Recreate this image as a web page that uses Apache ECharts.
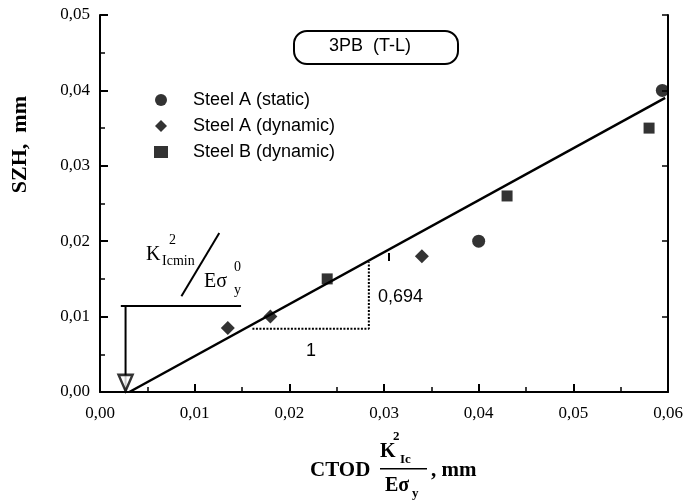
<!DOCTYPE html>
<html>
<head>
<meta charset="utf-8">
<script src="https://cdn.jsdelivr.net/npm/echarts@6/dist/echarts.min.js"></script>
<style>
  html, body { margin: 0; padding: 0; background: #fff; }
  #chart { width: 689px; height: 500px; }
</style>
</head>
<body>
<div id="chart"></div>
<script>
// values (x = CTOD, y = SZH, both mm)
const steelAStatic = [[0.040, 0.020], [0.0594, 0.040]];
const steelADynamic = [[0.0135, 0.0085], [0.018, 0.010], [0.034, 0.018]];
const steelBDynamic = [[0.024, 0.015], [0.043, 0.026], [0.058, 0.035]];
const fitLine = [[0.0031, 0], [0.0597, 0.039]];
const slopeTriangle = [[0.0161, 0.0084], [0.0284, 0.0084], [0.0284, 0.0172]];
const kLine = [[0.0022, 0.0114], [0.0149, 0.0114]];
const kSlash = [[0.0086, 0.0127], [0.0126, 0.0211]];
const kArrow = [[0.0027, 0.0114], [0.0027, 0.0002]];
const kArrowHead = [[0.0027, 0.0012]];

const serif = '"Liberation Serif", "DejaVu Serif", serif';
const sans = '"Liberation Sans", Arial, sans-serif';
const fmt = v => v.toFixed(2).replace('.', ',');

let myChart = echarts.init(document.getElementById('chart'));

const plainLine = (data, extra) => Object.assign({
  type: 'line',
  data: data,
  symbol: 'none',
  silent: true,
  z: 3,
  lineStyle: { color: '#000', width: 2 }
}, extra || {});

const txt = (x, y, s, font) => ({
  type: 'text',
  left: x,
  top: y,
  z: 20,
  style: { text: s, fill: '#000', font: font }
});

const axisLine = { onZero: false, lineStyle: { color: '#000', width: 2 } };

var option = {
  animation: false,
  grid: { left: 100, right: 21, top: 15, bottom: 108 },
  legend: {
    data: ['Steel A (static)', 'Steel A (dynamic)', 'Steel B (dynamic)'],
    orient: 'vertical',
    left: 149,
    top: 86,
    itemWidth: 14,
    itemHeight: 12,
    itemGap: 8,
    textStyle: { fontFamily: sans, fontSize: 18, color: '#000', padding: [0, 0, 0, 20] }
  },
  xAxis: {
    type: 'value', min: 0, max: 0.06, interval: 0.01,
    axisLine: axisLine,
    axisTick: { inside: true, length: 8, lineStyle: { color: '#000', width: 2 } },
    minorTick: { show: true, splitNumber: 2, length: 5, lineStyle: { color: '#000', width: 1.5 } },
    splitLine: { show: false },
    axisLabel: { formatter: fmt, fontFamily: serif, fontSize: 17, color: '#000', margin: 13 }
  },
  yAxis: [{
    type: 'value', min: 0, max: 0.05, interval: 0.01,
    axisLine: Object.assign({ show: true }, axisLine),
    axisTick: { show: true, inside: true, length: 8, lineStyle: { color: '#000', width: 2 } },
    minorTick: { show: true, splitNumber: 2, length: 5, lineStyle: { color: '#000', width: 1.5 } },
    splitLine: { show: false },
    axisLabel: { formatter: fmt, fontFamily: serif, fontSize: 17, color: '#000', margin: 10 }
  }, {
    type: 'value', min: 0, max: 0.05, interval: 0.01, position: 'right',
    axisLine: Object.assign({ show: true }, axisLine),
    axisTick: { show: true, inside: true, length: 6, lineStyle: { color: '#000', width: 1.5 } },
    splitLine: { show: false }, axisLabel: { show: false }
  }],
  series: [
    plainLine(fitLine, { lineStyle: { color: '#000', width: 2.5 } }),
    plainLine(slopeTriangle, { lineStyle: { color: '#000', width: 2, type: [2, 1.5] } }),
    plainLine(kLine),
    plainLine(kSlash),
    plainLine(kArrow),
    {
      type: 'scatter', data: kArrowHead, silent: true, z: 4,
      symbol: 'triangle', symbolRotate: 180, symbolSize: [14, 16],
      itemStyle: { color: '#fff', borderColor: '#000', borderWidth: 2.5 }
    },
    {
      name: 'Steel A (static)', type: 'scatter', data: steelAStatic, z: 5,
      symbol: 'circle', symbolSize: 13, itemStyle: { color: '#000' }
    },
    {
      name: 'Steel A (dynamic)', type: 'scatter', data: steelADynamic, z: 5,
      symbol: 'path://M0,-1L1,0L0,1L-1,0Z', symbolSize: 14, itemStyle: { color: '#000' }
    },
    {
      name: 'Steel B (dynamic)', type: 'scatter', data: steelBDynamic, z: 5,
      symbol: 'rect', symbolSize: 11, itemStyle: { color: '#000' }
    }
  ],
  graphic: [
    // title box
    {
      type: 'rect', left: 293, top: 30, z: 10,
      shape: { width: 164, height: 33, r: 13 },
      style: { fill: '#fff', stroke: '#000', lineWidth: 2 }
    },
    txt(329, 37, '3PB  (T-L)', '18px ' + sans),
    // slope labels
    txt(378, 288, '0,694', '18px ' + sans),
    txt(306, 342, '1', '18px ' + sans),
    { type: 'rect', left: 388, top: 253, shape: { width: 2, height: 8 }, style: { fill: '#000' } },
    // K^2_Icmin / E sigma_y^0
    txt(146, 245, 'K', '20px ' + serif),
    txt(169, 233, '2', '14px ' + serif),
    txt(162, 254, 'Icmin', '14px ' + serif),
    txt(204, 272, 'Eσ', '20px ' + serif),
    txt(234, 260, '0', '14px ' + serif),
    txt(234, 283, 'y', '14px ' + serif),
    // y axis title
    {
      type: 'text', left: 9, top: 96, rotation: Math.PI / 2, z: 20,
      style: { text: 'SZH,  mm', fill: '#000', font: 'bold 22px ' + serif }
    },
    // x axis title
    txt(310, 460, 'CTOD', 'bold 21px ' + serif),
    txt(380, 442, 'K', 'bold 20px ' + serif),
    txt(393, 430, '2', 'bold 13px ' + serif),
    txt(400, 453, 'Ic', 'bold 13px ' + serif),
    { type: 'rect', left: 380, top: 468, shape: { width: 47, height: 1.5 }, style: { fill: '#000' } },
    txt(385, 476, 'Eσ', 'bold 20px ' + serif),
    txt(412, 487, 'y', 'bold 13px ' + serif),
    txt(431, 460, ', mm', 'bold 21px ' + serif)
  ]
};

myChart.setOption(option);
</script>
</body>
</html>
